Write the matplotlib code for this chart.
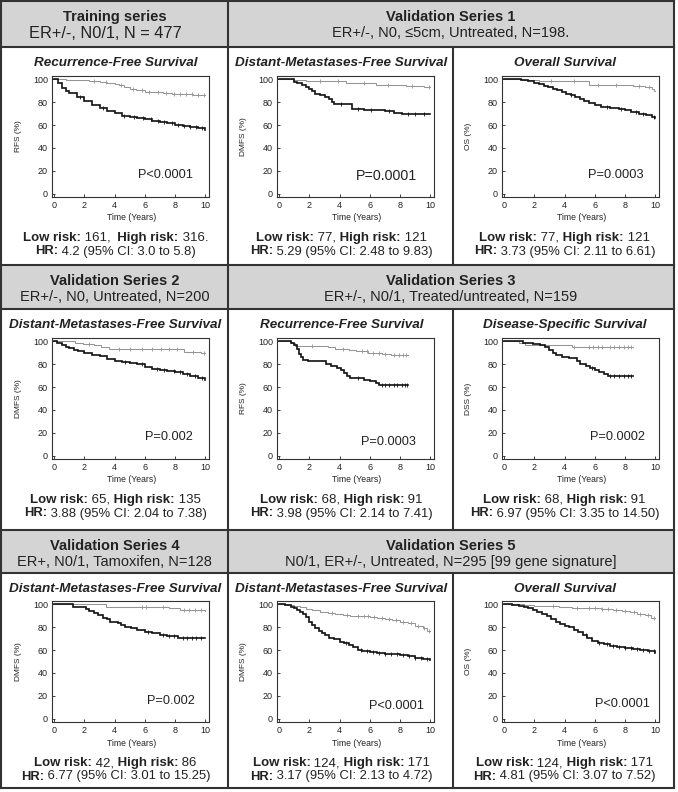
import numpy as np
import matplotlib
matplotlib.use("Agg")
import matplotlib.pyplot as plt
from matplotlib.patches import Rectangle
from matplotlib.lines import Line2D

plt.rcParams['font.family'] = ['Liberation Sans', 'DejaVu Sans']

W, H = 678, 792

# ---- header text ----
header_titles = [["Training series", "Validation Series 1"],
                 ["Validation Series 2", "Validation Series 3"],
                 ["Validation Series 4", "Validation Series 5"]]
header_subs = [["ER+/-, N0/1, N = 477", "ER+/-, N0, \u22645cm, Untreated, N=198."],
               ["ER+/-, N0, Untreated, N=200", "ER+/-, N0/1, Treated/untreated, N=159"],
               ["ER+, N0/1, Tamoxifen, N=128", "N0/1, ER+/-, Untreated, N=295 [99 gene signature]"]]

# ---- panel text ----
panel_titles = ["Recurrence-Free Survival", "Distant-Metastases-Free Survival", "Overall Survival",
                "Distant-Metastases-Free Survival", "Recurrence-Free Survival", "Disease-Specific Survival",
                "Distant-Metastases-Free Survival", "Distant-Metastases-Free Survival", "Overall Survival"]
y_labels = ["RFS (%)", "DMFS (%)", "OS (%)", "DMFS (%)", "RFS (%)", "DSS (%)",
            "DMFS (%)", "DMFS (%)", "OS (%)"]
p_values = ["P<0.0001", "P=0.0001", "P=0.0003", "P=0.002", "P=0.0003", "P=0.0002",
            "P=0.002", "P<0.0001", "P<0.0001"]
low_n = ["161,", "77,", "77,", "65,", "68,", "68,", "42,", "124,", "124,"]
high_n = ["316.", "121", "121", "135", "91", "91", "86", "171", "171"]
hr_text = ["4.2 (95% CI: 3.0 to 5.8)", "5.29 (95% CI: 2.48 to 9.83)", "3.73 (95% CI: 2.11 to 6.61)",
           "3.88 (95% CI: 2.04 to 7.38)", "3.98 (95% CI: 2.14 to 7.41)", "6.97 (95% CI: 3.35 to 14.50)",
           "6.77 (95% CI: 3.01 to 15.25)", "3.17 (95% CI: 2.13 to 4.72)", "4.81 (95% CI: 3.07 to 7.52)"]

# ---- Kaplan-Meier curves (time in years, survival %) ----
p1_low_t = [0, 0.8, 1.6, 2.3, 3.0, 3.5, 4.0, 4.3, 4.6, 5.0, 5.4, 6.0, 6.6, 7.2, 7.8, 8.5, 9.2, 10]
p1_low_s = [100, 99.6, 99.2, 98.7, 98, 97.2, 96.3, 95, 93.3, 91.8, 90.3, 89.4, 88.6, 88, 87.3, 86.8, 86.2, 86]
p1_high_t = [0, 0.25, 0.5, 0.75, 1.0, 1.5, 2.0, 2.5, 3.0, 3.5, 4.0, 4.5, 5.0, 5.5, 6.0, 6.5, 7.0, 7.5, 8.0, 8.5, 9.0, 9.5, 10]
p1_high_s = [100, 96.5, 92.5, 90, 87.7, 84.5, 81.5, 78, 75, 72.5, 70.2, 68.2, 66.7, 65.8, 65, 64, 62.6, 61.4, 60.2, 59.3, 58.5, 57.3, 56]
p1_low_c = [2.6, 3.4, 4.4, 5.2, 5.8, 6.3, 6.9, 7.4, 7.9, 8.3, 8.7, 9.1, 9.5, 9.9]
p1_high_c = [1.7, 3.2, 4.6, 5.3, 5.9, 6.4, 6.9, 7.3, 7.8, 8.2, 8.6, 9.0, 9.4, 9.8]

p2_low_t = [0, 0.9, 1.8, 4.4, 6.4, 8.4, 9.6, 10]
p2_low_s = [100, 99.3, 98.2, 96.6, 95.2, 94.3, 93.0, 93.0]
p2_high_t = [0, 0.95, 1.2, 1.5, 1.8, 2.0, 2.2, 2.4, 2.7, 3.0, 3.3, 3.5, 3.6, 4.8, 5.6, 6.6, 7.0, 7.6, 8.1, 10]
p2_high_s = [100, 98, 96.5, 94.7, 93, 91.8, 89.5, 87.5, 86, 84.8, 82.5, 80.5, 78.5, 74.5, 73.5, 73, 72, 71, 70, 69.5]
p2_low_c = [2.7, 3.9, 5.6, 7.2, 8.8, 9.9]
p2_high_c = [4.1, 5.2, 6.1, 7.3, 8.5, 9.0, 9.6]

p3_low_t = [0, 1.2, 2.3, 5.6, 8.5, 9.3, 9.8, 9.95, 10]
p3_low_s = [100, 99.4, 98.2, 95.2, 94.2, 93, 91.8, 90, 90]
p3_high_t = [0, 1.1, 1.6, 2.0, 2.3, 2.6, 2.9, 3.2, 3.5, 3.8, 4.1, 4.4, 4.7, 5.0, 5.3, 5.6, 6.0, 6.4, 7.0, 7.6, 8.0, 8.4, 8.9, 9.4, 9.8, 10]
p3_high_s = [100, 99.2, 98.4, 97, 95.8, 94.6, 93.2, 92, 90.3, 88.8, 87, 86, 84.4, 82.5, 81, 79.5, 77.5, 76, 75, 74, 73, 71.5, 70, 68.8, 67, 66]
p3_low_c = [3.1, 4.6, 6.2, 7.4, 8.9, 9.6]
p3_high_c = [4.4, 6.8, 7.7, 8.7, 9.2, 9.9]

p4_low_t = [0, 1.4, 1.9, 2.6, 3.1, 3.6, 8.6, 9.7, 10]
p4_low_s = [100, 99, 98, 96.8, 95.5, 93.2, 90.6, 89.8, 89.8]
p4_high_t = [0, 0.2, 0.5, 0.8, 1.0, 1.3, 1.6, 2.0, 2.5, 3.0, 3.5, 4.0, 4.5, 5.0, 5.5, 6.0, 6.5, 7.0, 7.5, 8.0, 8.5, 9.0, 9.5, 10]
p4_high_s = [100, 98.8, 97, 95.5, 94, 92.5, 91.2, 90, 88.5, 87, 85, 83, 82.3, 81.5, 80, 78, 76, 75, 74, 73, 71.5, 70, 68, 66.5]
p4_low_c = [2.3, 4.3, 5.0, 5.8, 6.5, 7.1, 7.6, 8.1, 9.2, 9.9]
p4_high_c = [4.7, 5.8, 6.8, 7.3, 7.9, 8.3, 8.8, 9.3, 9.8]

p5_low_t = [0, 0.8, 1.05, 3.2, 3.7, 4.6, 5.1, 5.9, 6.8, 7.4, 8.5]
p5_low_s = [100, 98.8, 96, 94.8, 93.2, 92.3, 91.2, 90.2, 89, 88, 88]
p5_high_t = [0, 0.8, 1.0, 1.15, 1.3, 1.45, 1.6, 1.9, 3.1, 3.4, 3.8, 4.1, 4.3, 4.5, 4.7, 5.6, 6.0, 6.4, 6.6, 8.5]
p5_high_s = [100, 98.5, 97, 93, 89, 86, 84, 82.5, 80.5, 78.5, 77, 75, 72, 70, 68, 66.5, 65.5, 64, 62.2, 62.2]
p5_low_c = [2.2, 4.2, 5.5, 5.8, 6.2, 6.6, 7.0, 7.6, 7.9, 8.2, 8.4]
p5_high_c = [5.2, 6.8, 7.0, 7.3, 7.6, 7.8, 8.1, 8.3, 8.45]

p6_low_t = [0, 1.0, 1.4, 4.5, 8.5]
p6_low_s = [100, 98.8, 97.3, 95.4, 95.4]
p6_high_t = [0, 1.25, 1.9, 2.4, 2.7, 2.95, 3.2, 3.45, 3.8, 4.3, 4.8, 5.0, 5.4, 5.7, 6.0, 6.3, 6.6, 6.9, 8.5]
p6_high_s = [100, 98.8, 97.8, 96.5, 95, 92.5, 90, 88, 86.3, 85.2, 83, 80.5, 78.5, 76.5, 75, 73.2, 71.5, 69.3, 69.3]
p6_low_c = [4.6, 5.6, 5.9, 6.2, 6.5, 7.0, 7.3, 7.6, 7.9, 8.2, 8.4]
p6_high_c = [5.8, 7.0, 7.3, 7.6, 7.9, 8.2, 8.4]

p7_low_t = [0, 3.4, 7.6, 8.3, 10]
p7_low_s = [100, 98, 96.8, 94.8, 94.3]
p7_high_t = [0, 1.25, 2.1, 2.3, 2.6, 2.9, 3.2, 3.5, 3.7, 4.2, 4.4, 4.7, 5.1, 5.5, 6.0, 6.5, 7.0, 7.5, 8.2, 10]
p7_high_s = [100, 97.5, 96, 94.5, 92.5, 90.5, 88.5, 87, 85, 84, 82, 80.5, 79, 77.5, 76, 75, 73.5, 72.5, 71, 71]
p7_low_c = [5.8, 6.1, 7.2, 8.6, 8.9, 9.3, 9.7]
p7_high_c = [6.2, 7.2, 7.6, 7.9, 8.5, 8.8, 9.1, 9.4, 9.7]

p8_low_t = [0, 0.5, 1.0, 1.4, 1.8, 2.2, 2.7, 3.2, 3.7, 4.2, 4.7, 5.3, 6.0, 6.5, 7.0, 7.5, 8.0, 8.5, 9.0, 9.5, 9.8, 10]
p8_low_s = [100, 99.6, 98.8, 97.6, 96.4, 95, 93.8, 92.8, 91.8, 90.8, 90, 89.5, 89, 88, 87, 86, 85, 83.5, 81.5, 79.5, 77, 76.5]
p8_high_t = [0, 0.4, 0.8, 1.0, 1.2, 1.4, 1.6, 1.8, 2.0, 2.2, 2.4, 2.6, 2.8, 3.0, 3.3, 3.6, 4.0, 4.3, 4.6, 4.9, 5.2, 5.5, 6.0, 6.5, 7.0, 7.5, 8.0, 8.5, 9.0, 9.5, 10]
p8_high_s = [100, 99.3, 98, 96.5, 95, 93.5, 91.5, 89, 85, 82, 79.5, 77, 75, 73, 71, 69.5, 67.5, 66.5, 64.5, 62.5, 60.5, 59, 58.2, 57.5, 57, 56.5, 56, 55, 53, 52, 51]
p8_low_c = [3.5, 4.5, 5.2, 5.6, 5.9, 6.3, 6.8, 7.3, 7.7, 8.2, 8.7, 9.2, 9.6, 9.9]
p8_high_c = [4.4, 5.4, 5.8, 6.2, 6.6, 7.0, 7.4, 7.8, 8.2, 8.6, 9.0, 9.4, 9.8]

p9_low_t = [0, 1.3, 2.0, 2.8, 3.6, 4.5, 5.3, 6.4, 7.2, 7.8, 8.3, 8.8, 9.3, 9.7, 10]
p9_low_s = [100, 99.5, 99, 98.3, 97.7, 97, 96.6, 96, 95.2, 94.3, 93.3, 92, 90.6, 88, 87.7]
p9_high_t = [0, 0.5, 1.0, 1.3, 1.6, 1.9, 2.2, 2.5, 2.8, 3.1, 3.4, 3.7, 4.0, 4.3, 4.6, 4.9, 5.2, 5.5, 5.8, 6.2, 6.6, 7.0, 7.5, 8.0, 8.5, 9.0, 9.5, 10]
p9_high_s = [100, 99.5, 99, 98, 97, 95.5, 93.5, 91.5, 89.5, 87, 85, 83, 81.5, 80, 78, 76, 73.5, 71, 68, 66, 65, 64, 63, 62, 61.2, 60.5, 59.5, 57.5]
p9_low_c = [3.2, 4.8, 5.6, 6.0, 6.5, 6.9, 7.4, 8.0, 8.6, 9.0, 9.5, 9.9]
p9_high_c = [5.4, 6.3, 6.8, 7.2, 7.6, 8.0, 8.4, 8.8, 9.2, 9.6, 9.9]

low_curves = [(p1_low_t, p1_low_s, p1_low_c), (p2_low_t, p2_low_s, p2_low_c), (p3_low_t, p3_low_s, p3_low_c),
              (p4_low_t, p4_low_s, p4_low_c), (p5_low_t, p5_low_s, p5_low_c), (p6_low_t, p6_low_s, p6_low_c),
              (p7_low_t, p7_low_s, p7_low_c), (p8_low_t, p8_low_s, p8_low_c), (p9_low_t, p9_low_s, p9_low_c)]
high_curves = [(p1_high_t, p1_high_s, p1_high_c), (p2_high_t, p2_high_s, p2_high_c), (p3_high_t, p3_high_s, p3_high_c),
               (p4_high_t, p4_high_s, p4_high_c), (p5_high_t, p5_high_s, p5_high_c), (p6_high_t, p6_high_s, p6_high_c),
               (p7_high_t, p7_high_s, p7_high_c), (p8_high_t, p8_high_s, p8_high_c), (p9_high_t, p9_high_s, p9_high_c)]

# P-value label position (data coords, right aligned)
p_pos = [(9.2, 16), (9.1, 15), (9.2, 16), (9.2, 16.5), (9.05, 12), (9.3, 16.5), (9.3, 15), (9.6, 11), (9.65, 13)]
p_size = [9.2, 10.3, 9.3, 9.2, 9.2, 9.2, 9.2, 9.2, 9.2]

TXT = '#222222'
LINE = '#333333'
GRAY_BG = '#d4d4d4'


def fx(px):
    return px / W


def fy(py):
    return 1 - py / H


def rich_text(fig, xc, y, parts, size):
    """Centre a line made of pieces with different weights (pixel coords, baseline)."""
    renderer = fig.canvas.get_renderer()
    texts = [fig.text(0, fy(y), s, fontsize=size, fontweight=w, color=TXT,
                      ha='left', va='baseline') for s, w in parts]
    widths = [t.get_window_extent(renderer).width for t in texts]
    x = xc - sum(widths) / 2
    for t, w in zip(texts, widths):
        t.set_x(fx(x))
        x += w


def km(ax, t, s, c, color, lw, ms):
    ax.step(t, s, where='post', color=color, lw=lw, solid_joinstyle='miter')
    t = np.asarray(t)
    s = np.asarray(s)
    idx = np.searchsorted(t, c, side='right') - 1
    ax.plot(c, s[idx], ls='none', marker='|', ms=ms, mew=0.6, color=color)


fig = plt.figure(figsize=(W / 100, H / 100), dpi=100)
fig.patch.set_facecolor('white')

col_x = [1, 228, 453, 674]
row_y = [1, 47, 265, 309, 530, 573, 788]

# header backgrounds
for r in range(3):
    y0, y1 = row_y[2 * r], row_y[2 * r + 1]
    fig.add_artist(Rectangle((fx(col_x[0]), fy(y1)), (col_x[3] - col_x[0]) / W, (y1 - y0) / H,
                             transform=fig.transFigure, facecolor=GRAY_BG, edgecolor='none', zorder=0))

# grid lines
for y in row_y:
    fig.add_artist(Line2D([fx(col_x[0]), fx(col_x[3])], [fy(y), fy(y)], transform=fig.transFigure,
                          color=LINE, lw=1.5))
for x in (col_x[0], col_x[1], col_x[3]):
    fig.add_artist(Line2D([fx(x), fx(x)], [fy(row_y[0]), fy(row_y[-1])], transform=fig.transFigure,
                          color=LINE, lw=1.5))
for r in range(3):
    fig.add_artist(Line2D([fx(col_x[2]), fx(col_x[2])], [fy(row_y[2 * r + 1]), fy(row_y[2 * r + 2])],
                          transform=fig.transFigure, color=LINE, lw=1.5))

# header texts
for r in range(3):
    y0, y1 = row_y[2 * r], row_y[2 * r + 1]
    for k, (xa, xb) in enumerate([(col_x[0], col_x[1]), (col_x[1], col_x[3])]):
        xc = (xa + xb) / 2
        fig.text(fx(xc), fy(y0 + 16), header_titles[r][k], fontsize=10.5, fontweight='bold',
                 color=TXT, ha='center', va='center')
        sub_x, sub_size = (105, 11.8) if (r, k) == (0, 0) else (xc, 10.5)
        fig.text(fx(sub_x), fy(y0 + 32), header_subs[r][k], fontsize=sub_size,
                 color=TXT, ha='center', va='center')

ax_left = [52, 277, 502]
ax_top = [76, 338, 601]
ax_w, ax_h = 157, 121

for i in range(9):
    r, c = divmod(i, 3)
    left, top = ax_left[c], ax_top[r]
    cell_top = row_y[2 * r + 1]
    cell_xc = (col_x[c] + col_x[c + 1]) / 2 + 1
    ax = fig.add_axes([fx(left), fy(top + ax_h), ax_w / W, ax_h / H])

    lt, ls, lc = low_curves[i]
    ht, hs, hc = high_curves[i]
    km(ax, lt, ls, lc, '#959595', 0.75, 2.2)
    km(ax, ht, hs, hc, '#111111', 1.2, 2.4)

    ax.set_xlim(-0.15, 10.25)
    ax.set_ylim(-3, 103)
    ax.set_xticks(range(0, 11, 2))
    ax.set_yticks(range(0, 101, 20))
    ax.tick_params(direction='in', length=2.5, width=0.6, labelsize=6.5, pad=3, colors=TXT)
    for sp in ax.spines.values():
        sp.set_linewidth(0.8)
        sp.set_color(LINE)
    ax.text(-0.215, 0.5, y_labels[i], transform=ax.transAxes, rotation=90, fontsize=6,
            color=TXT, ha='center', va='center')
    px, py = p_pos[i]
    ax.text(px, py, p_values[i], fontsize=p_size[i], color=TXT, ha='right', va='center')

    fig.text(fx(cell_xc), fy(cell_top + 16), panel_titles[i], fontsize=9.7, fontweight='bold',
             fontstyle='italic', color=TXT, ha='center', va='center')
    fig.text(fx(left + ax_w / 2 + 1), fy(top + ax_h + 21), "Time (Years)", fontsize=6.2,
             color=TXT, ha='center', va='center')

    sep = "  " if i == 0 else " "
    rich_text(fig, cell_xc, top + ax_h + 44,
              [("Low risk:", 'bold'), (" " + low_n[i], 'normal'),
               (sep + "High risk:", 'bold'), (" " + high_n[i], 'normal')], 9.5)
    rich_text(fig, cell_xc, top + ax_h + 57.5,
              [("HR:", 'bold'), (" " + hr_text[i], 'normal')], 9.4)

fig.savefig("out.png", dpi=100, facecolor='white')
